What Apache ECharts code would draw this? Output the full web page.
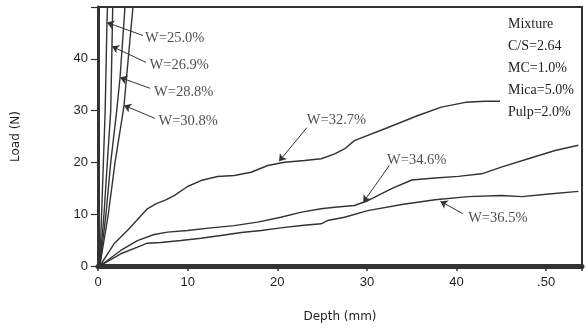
<!DOCTYPE html>
<html><head><meta charset="utf-8">
<script src="https://cdn.jsdelivr.net/npm/echarts@6/dist/echarts.min.js"></script>
<style>html,body{margin:0;padding:0;background:#fff}#c{width:588px;height:329px}</style>
</head><body><div id="c"></div>
<script>
// ---- data ----
const xTicks = [0, 10, 20, 30, 40, 50];
const xTickLabels = ['0', '10', '20', '30', '40', '.50'];
const yTickLabels = ['0', '10', '20', '30', '40'];

const w250Depth = [0.2, 0.4, 0.6, 0.8, 1.0, 1.06];
const w250Load  = [0, 10, 20, 30, 47, 50];
const w269Depth = [0.2, 0.67, 1.04, 1.42, 1.56, 1.64];
const w269Load  = [0, 10, 20, 30, 42.4, 50];
const w288Depth = [0.2, 0.89, 1.42, 2.09, 2.46, 3.01];
const w288Load  = [0, 10, 20, 30, 36.4, 50];
const w308Depth = [0.2, 1.15, 1.9, 2.82, 2.9, 3.9];
const w308Load  = [0, 10, 20, 30, 31, 50];

const w327Depth = [0.2, 1.79, 3.28, 5.51, 6.45, 7.57, 8.5, 9.99, 11.49, 13.34, 15.21, 17.08, 18.94, 20.81, 23.04, 24.9, 26.4, 27.5, 28.6, 32.0, 35.7, 38.3, 41.0, 43.2, 44.85];
const w327Load  = [0, 4.29, 6.85, 11.04, 12.0, 12.78, 13.6, 15.35, 16.5, 17.28, 17.47, 18.1, 19.4, 20.04, 20.37, 20.7, 21.66, 22.6, 24.2, 26.5, 29.05, 30.66, 31.6, 31.8, 31.8];

const w346Depth = [0.2, 2.54, 4.4, 6.26, 7.75, 9.99, 12.6, 15.2, 17.8, 20.4, 22.7, 24.9, 26.4, 28.6, 30.1, 32.7, 35.0, 37.6, 40.2, 42.8, 45.0, 48.0, 51.0, 53.6];
const w346Load  = [0, 3.0, 4.9, 6.08, 6.53, 6.85, 7.37, 7.8, 8.46, 9.42, 10.4, 11.04, 11.35, 11.68, 12.6, 14.9, 16.6, 17.0, 17.3, 17.8, 19.1, 20.7, 22.3, 23.3];

const w365Depth = [0.2, 2.54, 4.4, 5.5, 7.0, 9.25, 11.5, 13.7, 16.0, 18.2, 20.4, 22.7, 24.9, 25.6, 27.5, 30.1, 33.9, 37.6, 41.3, 45.0, 47.3, 50.3, 53.6];
const w365Load  = [0, 2.36, 3.63, 4.4, 4.54, 4.92, 5.37, 5.89, 6.47, 6.85, 7.37, 7.82, 8.15, 8.78, 9.42, 10.7, 11.87, 12.78, 13.4, 13.6, 13.4, 13.9, 14.4];

const seriesNames = ['W=25.0%', 'W=26.9%', 'W=28.8%', 'W=30.8%', 'W=32.7%', 'W=34.6%', 'W=36.5%'];
const mixtureLines = ['Mixture', 'C/S=2.64', 'MC=1.0%', 'Mica=5.0%', 'Pulp=2.0%'];

// ---- annotation placement (data coords) ----
const labelPos = [[5.25, 43.9], [5.75, 38.7], [6.25, 33.5], [6.75, 27.9], [23.3, 28.1], [32.25, 20.4], [41.3, 9.2]];
const arrowPos = [
  [[5.02, 44.5], [1.0, 47.0]],
  [[5.36, 39.3], [1.56, 42.4]],
  [[5.80, 34.3], [2.46, 36.4]],
  [[6.36, 28.5], [2.90, 31.0]],
  [[23.3, 26.7], [20.2, 20.2]],
  [[32.5, 19.4], [29.6, 12.3]],
  [[40.7, 10.1], [38.2, 12.5]]
];

const zip = (a, b) => a.map((v, i) => [v, b[i]]);
const depths = [w250Depth, w269Depth, w288Depth, w308Depth, w327Depth, w346Depth, w365Depth];
const loads = [w250Load, w269Load, w288Load, w308Load, w327Load, w346Load, w365Load];

const ink = '#333';
const textInk = '#1e1e1e';
const serif = '"Liberation Serif", "Times New Roman", serif';
const sans = '"Liberation Sans", Arial, sans-serif';

const series = depths.map((d, i) => ({
  name: seriesNames[i], type: 'line', data: zip(d, loads[i]),
  showSymbol: false, smooth: false, clip: true,
  lineStyle: { color: ink, width: 1.4 }, silent: true
}));

series.push({
  type: 'scatter', symbolSize: 0, silent: true,
  data: labelPos.map((p, i) => [p[0], p[1], seriesNames[i]]),
  label: { show: true, position: 'right', distance: 0, formatter: p => p.data[2],
    fontFamily: serif, fontSize: 14.5, color: textInk }
});
series.push({
  type: 'line', data: [], silent: true,
  markLine: {
    silent: true, symbol: ['none', 'arrow'], symbolSize: 7, animation: false,
    label: { show: false },
    lineStyle: { color: ink, width: 1, type: 'solid' },
    data: arrowPos.map(a => [{ coord: a[0] }, { coord: a[1] }])
  }
});

const chart = echarts.init(document.getElementById('c'), null, { renderer: 'canvas' });
chart.setOption({
  animation: false,
  backgroundColor: '#fff',
  grid: { left: 98, right: 6, top: 7, bottom: 63, show: true, borderColor: ink, borderWidth: 2, backgroundColor: 'transparent' },
  xAxis: {
    type: 'value', min: 0, max: 54, interval: 10,
    name: 'Depth (mm)', nameLocation: 'middle', nameGap: 45,
    nameTextStyle: { fontFamily: '"DejaVu Sans", sans-serif', fontSize: 12, color: textInk },
    axisLine: { show: true, lineStyle: { color: ink, width: 5 } },
    axisTick: { show: true, inside: false, length: 5, lineStyle: { color: ink, width: 1.5 } },
    axisLabel: { margin: 10, fontFamily: sans, fontSize: 13, color: textInk,
      formatter: v => { const k = xTicks.indexOf(v); return k >= 0 ? xTickLabels[k] : ''; } },
    splitLine: { show: false }
  },
  yAxis: {
    type: 'value', min: 0, max: 50, interval: 10,
    name: 'Load (N)', nameLocation: 'middle', nameGap: 76, nameRotate: 90,
    nameTextStyle: { fontFamily: '"DejaVu Sans", sans-serif', fontSize: 12, color: textInk },
    axisLine: { show: true, lineStyle: { color: ink, width: 3 } },
    axisTick: { show: true, inside: false, length: 7, lineStyle: { color: ink, width: 1.2 } },
    axisLabel: { margin: 10, fontFamily: sans, fontSize: 13, color: textInk,
      formatter: v => { const k = v / 10; return Number.isInteger(k) && k < yTickLabels.length ? yTickLabels[k] : ''; } },
    splitLine: { show: false }
  },
  graphic: [{
    type: 'text', left: 508, top: 13, silent: true,
    style: { text: mixtureLines.join('\n'), font: '14px ' + serif, lineHeight: 22, fill: textInk }
  }],
  series
});
</script></body></html>
